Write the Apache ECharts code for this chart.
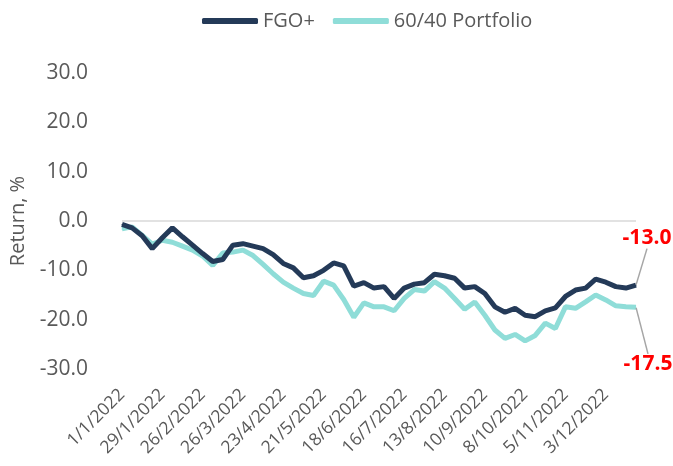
<!DOCTYPE html>
<html>
<head>
<meta charset="utf-8">
<title>FGO+ vs 60/40 Portfolio</title>
<script src="https://cdn.jsdelivr.net/npm/echarts@6/dist/echarts.min.js"></script>
<style>
  html, body { margin: 0; padding: 0; background: #fff; }
  #chart { width: 673px; height: 466px; }
</style>
</head>
<body>
<div id="chart"></div>
<script>
// weekly dates
var dates = [
  '1/1/2022', '8/1/2022', '15/1/2022', '22/1/2022', '29/1/2022',
  '5/2/2022', '12/2/2022', '19/2/2022', '26/2/2022',
  '5/3/2022', '12/3/2022', '19/3/2022', '26/3/2022',
  '2/4/2022', '9/4/2022', '16/4/2022', '23/4/2022', '30/4/2022',
  '7/5/2022', '14/5/2022', '21/5/2022', '28/5/2022',
  '4/6/2022', '11/6/2022', '18/6/2022', '25/6/2022',
  '2/7/2022', '9/7/2022', '16/7/2022', '23/7/2022', '30/7/2022',
  '6/8/2022', '13/8/2022', '20/8/2022', '27/8/2022',
  '3/9/2022', '10/9/2022', '17/9/2022', '24/9/2022',
  '1/10/2022', '8/10/2022', '15/10/2022', '22/10/2022', '29/10/2022',
  '5/11/2022', '12/11/2022', '19/11/2022', '26/11/2022',
  '3/12/2022', '10/12/2022', '17/12/2022', '24/12/2022'
]

var fgoPlus = [
  -0.7, -1.4, -3.0, -5.6, -3.4, -1.4, -3.2, -4.9, -6.6, -8.2,
  -7.8, -4.9, -4.6, -5.1, -5.6, -6.8, -8.6, -9.5, -11.5, -11.1,
  -10.0, -8.5, -9.1, -13.2, -12.5, -13.6, -13.3, -15.7, -13.6, -12.8,
  -12.5, -10.8, -11.1, -11.6, -13.6, -13.3, -14.7, -17.4, -18.5, -17.7,
  -19.1, -19.4, -18.2, -17.6, -15.3, -14.0, -13.6, -11.8, -12.4, -13.3,
  -13.6, -13.0
]

var portfolio6040 = [
  -1.6, -1.2, -2.9, -4.7, -3.9, -4.3, -5.1, -5.9, -7.1, -9.0,
  -6.5, -6.3, -5.9, -7.0, -8.8, -10.7, -12.4, -13.6, -14.7, -15.1,
  -12.2, -13.0, -15.9, -19.5, -16.6, -17.4, -17.4, -18.2, -15.7, -13.9,
  -14.2, -12.3, -13.6, -15.7, -17.9, -16.4, -19.1, -22.1, -23.8, -23.0,
  -24.3, -23.2, -20.7, -21.8, -17.4, -17.7, -16.4, -15.0, -16.0, -17.2,
  -17.4, -17.5
]

var seriesNames = ['FGO+', '60/40 Portfolio']
var seriesColors = ['#243a58', '#8fddd8']
var yTicks = { min: -30, max: 30, interval: 10 }

var textColor = '#595959'
var font = '"Open Sans", "Noto Sans", sans-serif'

// only the last point gets a red value label
function endLabel (data, text) {
  return data.map(function (v, i) {
    if (i !== data.length - 1) return v
    return {
      value: v,
      label: {
        show: true,
        position: 'inside',
        formatter: text,
        color: '#ff0000',
        fontWeight: 'bold',
        fontSize: 21,
        fontFamily: font
      }
    }
  })
}

var leader = {
  show: true,
  lineStyle: { color: '#a6a6a6', width: 1.5 }
}

var myChart = echarts.init(document.getElementById('chart'))

var option = {
  animation: false,
  backgroundColor: '#ffffff',
  color: seriesColors,
  textStyle: { fontFamily: font },
  legend: {
    data: seriesNames,
    left: 197,
    top: 6,
    icon: 'roundRect',
    itemWidth: 56,
    itemHeight: 6,
    itemGap: 18,
    textStyle: { color: textColor, fontSize: 20, fontFamily: font }
  },
  grid: {
    left: 112,
    right: 37,
    top: 73,
    bottom: 97
  },
  xAxis: {
    type: 'category',
    data: dates,
    boundaryGap: false,
    axisLine: { show: false },
    axisTick: { show: false },
    axisLabel: {
      interval: 3,
      rotate: 45,
      margin: 23,
      color: textColor,
      fontSize: 17.5,
      fontFamily: font
    }
  },
  yAxis: {
    type: 'value',
    min: yTicks.min,
    max: yTicks.max,
    interval: yTicks.interval,
    name: 'Return, %',
    nameLocation: 'middle',
    nameGap: 94,
    nameTextStyle: { color: textColor, fontSize: 20, fontFamily: font },
    axisLine: { show: false },
    axisTick: { show: false },
    splitLine: { show: false },
    axisLabel: {
      margin: 34,
      color: textColor,
      fontSize: 21,
      fontFamily: font,
      formatter: function (v) { return v.toFixed(1) }
    }
  },
  series: [
    {
      name: seriesNames[0],
      type: 'line',
      symbol: 'circle',
      symbolSize: 1,
      showSymbol: true,
      z: 3,
      lineStyle: { width: 5, color: seriesColors[0] },
      labelLine: leader,
      labelLayout: { dx: 11, dy: -47 },
      data: endLabel(fgoPlus, '-13.0'),
      markLine: {
        silent: true,
        symbol: 'none',
        label: { show: false },
        lineStyle: { color: '#d9d9d9', type: 'solid', width: 1.5 },
        data: [{ yAxis: 0 }]
      }
    },
    {
      name: seriesNames[1],
      type: 'line',
      symbol: 'circle',
      symbolSize: 1,
      showSymbol: true,
      z: 2,
      lineStyle: { width: 5, color: seriesColors[1] },
      labelLine: leader,
      labelLayout: { dx: 12, dy: 57 },
      data: endLabel(portfolio6040, '-17.5')
    }
  ]
}

myChart.setOption(option)
</script>
</body>
</html>
